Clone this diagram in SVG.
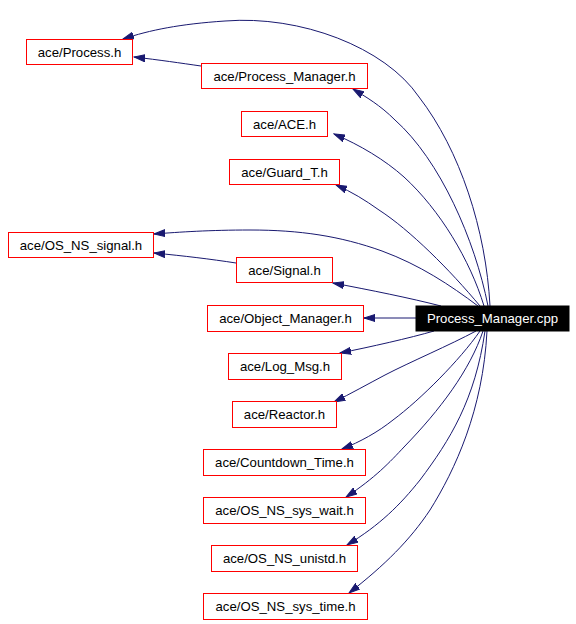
<svg xmlns="http://www.w3.org/2000/svg" width="576" height="624" viewBox="0 0 576 624">
<style>
.n rect{fill:#fff;stroke:#ff0000;stroke-width:1}
.n text{font-family:"Liberation Sans",Arial,Helvetica,sans-serif;font-size:13.2px;fill:#000;text-anchor:middle}
#cpp rect{fill:#000;stroke:#000}
#cpp text{fill:#fff}
.e path{fill:none;stroke:#191970;stroke-width:1;marker-end:url(#ah)}
</style>
<defs>
<marker id="ah" markerUnits="userSpaceOnUse" markerWidth="12" markerHeight="8" refX="11" refY="4" orient="auto" viewBox="0 0 12 8">
<path d="M0,0.5 L11,4 L0,7.5 z" fill="#191970" stroke="#191970" stroke-width="1"/>
</marker>
</defs>
<rect width="576" height="624" fill="#fff"/>
<g class="e" id="edges">
<path d="M490,306 C486,230 460,150 419,97 C385,47 300,15 225,21 C180,24 150,30 123,39"/>
<path d="M488,306 C475,240 440,160 395,120 C380,105 366,97 353,89"/>
<path d="M484,306 C470,260 440,210 404,177 C385,160 360,145 334,134"/>
<path d="M480,306 C450,270 410,230 379,210 C365,200 352,192 336,185"/>
<path d="M478,306 C450,285 420,265 382,251 C340,236 300,230 250,230 C210,230 180,232 154,234"/>
<path d="M236,263 C210,259 185,256 154,253"/>
<path d="M201,66 C180,63 160,60 134,57"/>
<path d="M441,306 C410,298 370,290 333,283"/>
<path d="M416,318 L364,318"/>
<path d="M434,331 C410,338 370,347 340,353"/>
<path d="M476,331 C450,345 410,362 385,375 C368,384 350,394 334,402"/>
<path d="M480,331 C460,360 420,400 393,420 C378,432 360,442 342,449"/>
<path d="M483,331 C470,370 440,410 404,447 C390,462 375,478 346,497"/>
<path d="M485,331 C475,400 450,440 420,480 C400,505 380,525 347,545"/>
<path d="M487,331 C483,410 455,470 430,510 C410,540 385,565 349,593"/>
</g>
<g class="n" id="process_h"><rect x="26.5" y="39.5" width="106" height="25"/><text x="79.5" y="56.5">ace/Process.h</text></g>
<g class="n" id="process_manager_h"><rect x="201.5" y="63.5" width="166" height="25"/><text x="284.5" y="80.5">ace/Process_Manager.h</text></g>
<g class="n" id="ace_h"><rect x="241.5" y="111.5" width="86" height="25"/><text x="284.5" y="128.5">ace/ACE.h</text></g>
<g class="n" id="guard_t_h"><rect x="229.5" y="159.5" width="110" height="25"/><text x="284.5" y="176.5">ace/Guard_T.h</text></g>
<g class="n" id="os_ns_signal_h"><rect x="8.5" y="232.5" width="145" height="25"/><text x="81" y="249.5">ace/OS_NS_signal.h</text></g>
<g class="n" id="signal_h"><rect x="236.5" y="257.5" width="96" height="25"/><text x="284.5" y="274.5">ace/Signal.h</text></g>
<g class="n" id="object_manager_h"><rect x="207.5" y="305.5" width="156" height="26"/><text x="285.5" y="323">ace/Object_Manager.h</text></g>
<g class="n" id="cpp"><rect x="416" y="306" width="153" height="25"/><text x="492.5" y="323">Process_Manager.cpp</text></g>
<g class="n" id="log_msg_h"><rect x="228.5" y="353.5" width="113" height="26"/><text x="285" y="371">ace/Log_Msg.h</text></g>
<g class="n" id="reactor_h"><rect x="232.5" y="401.5" width="104" height="26"/><text x="284.5" y="419">ace/Reactor.h</text></g>
<g class="n" id="countdown_time_h"><rect x="203.5" y="449.5" width="162" height="26"/><text x="284.5" y="467">ace/Countdown_Time.h</text></g>
<g class="n" id="os_ns_sys_wait_h"><rect x="203.5" y="497.5" width="162" height="26"/><text x="284.5" y="515">ace/OS_NS_sys_wait.h</text></g>
<g class="n" id="os_ns_unistd_h"><rect x="211.5" y="545.5" width="146" height="26"/><text x="284.5" y="563">ace/OS_NS_unistd.h</text></g>
<g class="n" id="os_ns_sys_time_h"><rect x="203.5" y="593.5" width="164" height="26"/><text x="285.5" y="611">ace/OS_NS_sys_time.h</text></g>
</svg>
